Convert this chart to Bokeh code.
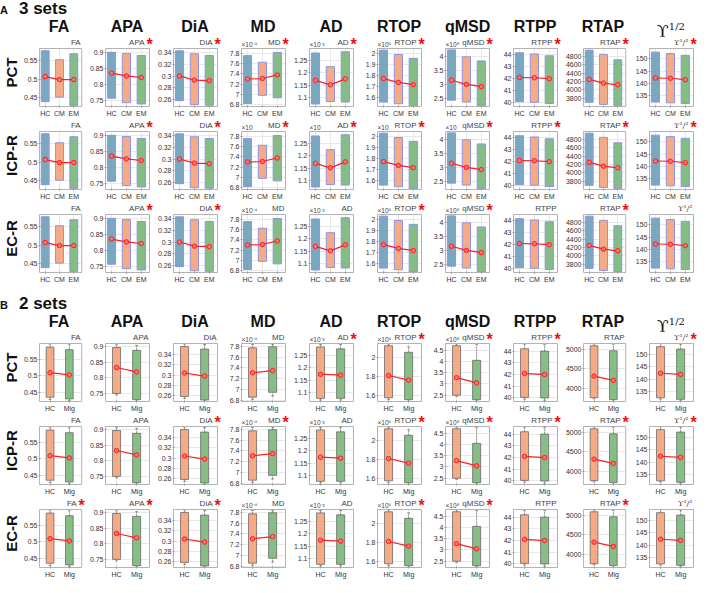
from bokeh.plotting import figure
from bokeh.models import (Range1d, FixedTicker, CustomJSTickFormatter, Title, Div, Spacer)
from bokeh.layouts import row, column
from bokeh.core.properties import value
from bokeh.embed import file_html
from bokeh.resources import INLINE

# ---------------------------------------------------------------- labels
HEADERS = ["FA", "APA", "DiA", "MD", "AD", "RTOP", "qMSD", "RTPP", "RTAP", "UPS"]
SMALL_TITLES = ["FA", "APA", "DiA", "MD", "AD", "RTOP", "qMSD", "RTPP", "RTAP", "ϒ¹/²"]
EXPONENTS = ["", "", "", "×10⁻⁴", "×10⁻³", "×10⁵", "×10⁸", "", "", ""]
ROW_NAMES = ["PCT", "ICP-R", "EC-R"]
GROUPS_A = ["HC", "CM", "EM"]
GROUPS_B = ["HC", "Mig"]

# significance stars (1 = red asterisk) per row, per metric
STARS_A = [[0, 1, 1, 1, 1, 1, 1, 1, 1, 1],
           [0, 1, 1, 1, 1, 1, 1, 1, 1, 1],
           [0, 1, 1, 0, 0, 1, 1, 0, 1, 0]]
STARS_B = [[0, 0, 0, 0, 1, 1, 1, 1, 0, 1],
           [0, 0, 1, 1, 0, 1, 1, 1, 1, 1],
           [1, 1, 1, 0, 0, 1, 1, 0, 1, 0]]

# ---------------------------------------------------------------- y axes
fa_ylim, fa_ticks = (0.427, 0.582), [0.45, 0.5, 0.55]
apa_ylim, apa_ticks = (0.730, 0.912), [0.75, 0.8, 0.85, 0.9]
dia_ylim, dia_ticks = (0.248, 0.347), [0.26, 0.28, 0.3, 0.32, 0.34]
md_ylim, md_ticks = (6.76, 7.90), [6.8, 7, 7.2, 7.4, 7.6, 7.8]
ad_ylim, ad_ticks = (1.065, 1.298), [1.1, 1.15, 1.2, 1.25]
rtop_ylim, rtop_ticks = (1.515, 2.045), [1.6, 1.7, 1.8, 1.9, 2]
qmsd_ylim, qmsd_ticks = (2.2, 4.3), [2.5, 3, 3.5, 4]
rtpp_ylim, rtpp_ticks = (39.7, 44.5), [40, 41, 42, 43, 44]
rtap_ylim, rtap_ticks = (3600, 4990), [3800, 4000, 4200, 4400, 4600, 4800]
ups_ylim, ups_ticks = (130.5, 154.3), [135, 140, 145, 150]

fa_ylim_b, fa_ticks_b = (0.422, 0.599), [0.45, 0.5, 0.55]
apa_ylim_b, apa_ticks_b = (0.724, 0.910), [0.75, 0.8, 0.85, 0.9]
dia_ylim_b, dia_ticks_b = (0.248, 0.362), [0.26, 0.28, 0.3, 0.32, 0.34]
md_ylim_b, md_ticks_b = (6.78, 7.85), [6.8, 7, 7.2, 7.4, 7.6, 7.8]
ad_ylim_b, ad_ticks_b = (1.062, 1.300), [1.1, 1.15, 1.2, 1.25]
rtop_ylim_b, rtop_ticks_b = (1.53, 2.155), [1.6, 1.8, 2]
qmsd_ylim_b, qmsd_ticks_b = (2.22, 4.80), [2.5, 3, 3.5, 4, 4.5]
rtpp_ylim_b, rtpp_ticks_b = (39.7, 44.65), [40, 41, 42, 43, 44]
rtap_ylim_b, rtap_ticks_b = (3650, 5160), [4000, 4500, 5000]
ups_ylim_b, ups_ticks_b = (130.8, 154.6), [135, 140, 145, 150]

# ---------------------------------------------------------------- data, section A (HC, CM, EM)
fa_low_a, fa_high_a, fa_mean_a = [0.440, 0.452, 0.430], [0.576, 0.552, 0.568], [0.507, 0.499, 0.499]
apa_low_a, apa_high_a, apa_mean_a = [0.756, 0.742, 0.738], [0.900, 0.896, 0.890], [0.835, 0.826, 0.821]
dia_low_a, dia_high_a, dia_mean_a = [0.258, 0.251, 0.250], [0.343, 0.338, 0.335], [0.300, 0.293, 0.292]
md_low_a, md_high_a, md_mean_a = [6.82, 6.98, 6.93], [7.76, 7.63, 7.82], [7.30, 7.31, 7.38]
ad_low_a, ad_high_a, ad_mean_a = [1.075, 1.085, 1.083], [1.280, 1.225, 1.285], [1.170, 1.152, 1.176]
rtop_low_a, rtop_high_a, rtop_mean_a = [1.555, 1.540, 1.520], [2.030, 1.990, 1.955], [1.770, 1.735, 1.715]
qmsd_low_a, qmsd_high_a, qmsd_mean_a = [2.43, 2.36, 2.22], [4.25, 4.00, 3.85], [3.15, 3.00, 2.92]
rtpp_low_a, rtpp_high_a, rtpp_mean_a = [40.10, 40.05, 39.95], [44.15, 44.05, 43.90], [42.10, 42.08, 42.00]
rtap_low_a, rtap_high_a, rtap_mean_a = [3700, 3650, 3620], [4950, 4850, 4720], [4250, 4160, 4120]
ups_low_a, ups_high_a, ups_mean_a = [132.3, 132.0, 131.7], [152.8, 152.2, 151.5], [142.2, 142.1, 141.5]

# ---------------------------------------------------------------- data, section B (HC, Mig)
fa_low_b, fa_high_b, fa_mean_b = [0.435, 0.430], [0.588, 0.580], [0.510, 0.503]
fa_wlo_b, fa_whi_b = [0.428, 0.425], [0.597, 0.597]
apa_low_b, apa_high_b, apa_mean_b = [0.750, 0.730], [0.897, 0.888], [0.833, 0.819]
apa_wlo_b, apa_whi_b = [0.745, 0.726], [0.906, 0.903]
dia_low_b, dia_high_b, dia_mean_b = [0.258, 0.251], [0.356, 0.351], [0.304, 0.298]
dia_wlo_b, dia_whi_b = [0.254, 0.249], [0.361, 0.360]
md_low_b, md_high_b, md_mean_b = [6.86, 6.95], [7.77, 7.79], [7.31, 7.35]
md_wlo_b, md_whi_b = [6.82, 6.88], [7.83, 7.83]
ad_low_b, ad_high_b, ad_mean_b = [1.075, 1.075], [1.286, 1.278], [1.174, 1.170]
ad_wlo_b, ad_whi_b = [1.068, 1.068], [1.296, 1.296]
rtop_low_b, rtop_high_b, rtop_mean_b = [1.57, 1.55], [2.13, 2.06], [1.81, 1.76]
rtop_wlo_b, rtop_whi_b = [1.55, 1.535], [2.15, 2.12]
qmsd_low_b, qmsd_high_b, qmsd_mean_b = [2.50, 2.30], [4.70, 4.05], [3.28, 3.05]
qmsd_wlo_b, qmsd_whi_b = [2.45, 2.25], [4.78, 4.75]
rtpp_low_b, rtpp_high_b, rtpp_mean_b = [40.05, 40.00], [44.20, 44.00], [42.10, 42.00]
rtpp_wlo_b, rtpp_whi_b = [39.90, 39.80], [44.60, 44.55]
rtap_low_b, rtap_high_b, rtap_mean_b = [3750, 3700], [5100, 4970], [4310, 4200]
rtap_wlo_b, rtap_whi_b = [3720, 3660], [5150, 5140]
ups_low_b, ups_high_b, ups_mean_b = [132.3, 131.7], [153.3, 152.3], [142.4, 141.9]
ups_wlo_b, ups_whi_b = [131.8, 131.3], [154.5, 154.3]

# tables built from the lists above
AXES_A = [(fa_ylim, fa_ticks), (apa_ylim, apa_ticks), (dia_ylim, dia_ticks), (md_ylim, md_ticks),
          (ad_ylim, ad_ticks), (rtop_ylim, rtop_ticks), (qmsd_ylim, qmsd_ticks),
          (rtpp_ylim, rtpp_ticks), (rtap_ylim, rtap_ticks), (ups_ylim, ups_ticks)]
AXES_B = [(fa_ylim_b, fa_ticks_b), (apa_ylim_b, apa_ticks_b), (dia_ylim_b, dia_ticks_b),
          (md_ylim_b, md_ticks_b), (ad_ylim_b, ad_ticks_b), (rtop_ylim_b, rtop_ticks_b),
          (qmsd_ylim_b, qmsd_ticks_b), (rtpp_ylim_b, rtpp_ticks_b), (rtap_ylim_b, rtap_ticks_b),
          (ups_ylim_b, ups_ticks_b)]
DATA_A = [(fa_low_a, fa_high_a, fa_mean_a), (apa_low_a, apa_high_a, apa_mean_a),
          (dia_low_a, dia_high_a, dia_mean_a), (md_low_a, md_high_a, md_mean_a),
          (ad_low_a, ad_high_a, ad_mean_a), (rtop_low_a, rtop_high_a, rtop_mean_a),
          (qmsd_low_a, qmsd_high_a, qmsd_mean_a), (rtpp_low_a, rtpp_high_a, rtpp_mean_a),
          (rtap_low_a, rtap_high_a, rtap_mean_a), (ups_low_a, ups_high_a, ups_mean_a)]
DATA_B = [(fa_low_b, fa_high_b, fa_mean_b, fa_wlo_b, fa_whi_b),
          (apa_low_b, apa_high_b, apa_mean_b, apa_wlo_b, apa_whi_b),
          (dia_low_b, dia_high_b, dia_mean_b, dia_wlo_b, dia_whi_b),
          (md_low_b, md_high_b, md_mean_b, md_wlo_b, md_whi_b),
          (ad_low_b, ad_high_b, ad_mean_b, ad_wlo_b, ad_whi_b),
          (rtop_low_b, rtop_high_b, rtop_mean_b, rtop_wlo_b, rtop_whi_b),
          (qmsd_low_b, qmsd_high_b, qmsd_mean_b, qmsd_wlo_b, qmsd_whi_b),
          (rtpp_low_b, rtpp_high_b, rtpp_mean_b, rtpp_wlo_b, rtpp_whi_b),
          (rtap_low_b, rtap_high_b, rtap_mean_b, rtap_wlo_b, rtap_whi_b),
          (ups_low_b, ups_high_b, ups_mean_b, ups_wlo_b, ups_whi_b)]

# ---------------------------------------------------------------- style
FONT = "Liberation Sans"
COLORS_A = ["#72a3bd", "#f5a67e", "#7dbb7e"]
EDGE_A = "#8c93e6"
COLORS_B = ["#f5a67e", "#80bb80"]
EDGE_B = "#6a6a6a"
RED = "#ff1f1f"

FW, FH = 44, 58          # axes box size (px)
EXT_R, TH, PAD = 5, 11, 1  # frame extension right (star), top (title zone), left/bottom pad
LB, RB = 18, 0           # left / right border
TB, BB = 1, 12           # top / bottom border
RL = 18                  # row label strip


def yfmt():
    return CustomJSTickFormatter(code="return String(+tick.toFixed(6));")


def xfmt(groups):
    return CustomJSTickFormatter(
        args=dict(labels=groups),
        code="const i = Math.round(tick) - 1; return (i >= 0 && i < labels.length) ? labels[i] : '';")


def panel(section, r, m, first):
    groups = GROUPS_A if section == "A" else GROUPS_B
    n = len(groups)
    xs = list(range(1, n + 1))
    (ylo, yhi), ticks = (AXES_A if section == "A" else AXES_B)[m]
    xr0, xr1 = (0.6, 3.55) if section == "A" else (0.45, 2.64)
    star = (STARS_A if section == "A" else STARS_B)[r][m]
    ux = (xr1 - xr0) / FW   # data units per pixel
    uy = (yhi - ylo) / FH

    left = LB + (RL if first else 0)
    p = figure(width=left + PAD + FW + EXT_R + RB, height=TB + TH + FH + PAD + BB,
               x_range=Range1d(xr0 - PAD * ux, xr1 + EXT_R * ux),
               y_range=Range1d(ylo - PAD * uy, yhi + TH * uy),
               output_backend="svg", toolbar_location=None,
               min_border_left=left, min_border_right=RB,
               min_border_top=TB, min_border_bottom=BB)
    p.outline_line_color = None
    p.grid.grid_line_color = "#e8e8e8"
    p.xgrid.cross_bounds = (ylo, yhi)
    p.ygrid.cross_bounds = (xr0, xr1)

    p.xaxis.ticker = FixedTicker(ticks=xs)
    p.xaxis.formatter = xfmt(groups)
    p.yaxis.ticker = FixedTicker(ticks=ticks)
    p.yaxis.formatter = yfmt()
    for ax in (p.xaxis[0], p.yaxis[0]):
        ax.axis_line_color = None
        ax.major_tick_in = 2
        ax.major_tick_out = 0
        ax.major_tick_line_color = "#9a9a9a"
        ax.minor_tick_line_color = None
        ax.major_label_text_font = FONT
        ax.major_label_text_font_size = "7px"
        ax.major_label_text_color = "#333333"
    p.yaxis.major_label_standoff = 1
    p.xaxis.major_label_standoff = 2

    if section == "A":
        low, high, mean = DATA_A[m]
        p.vbar(x=xs, bottom=low, top=high, width=0.55, fill_color=COLORS_A,
               fill_alpha=0.95, line_color=EDGE_A, line_width=1)
    else:
        low, high, mean, wlo, whi = DATA_B[m]
        p.segment(x0=xs, y0=high, x1=xs, y1=whi, line_color="#777777",
                  line_width=0.8, line_dash="2 1")
        p.segment(x0=xs, y0=wlo, x1=xs, y1=low, line_color="#777777",
                  line_width=0.8, line_dash="2 1")
        p.segment(x0=[x - 0.07 for x in xs], y0=whi, x1=[x + 0.07 for x in xs], y1=whi,
                  line_color="#777777", line_width=0.8)
        p.segment(x0=[x - 0.07 for x in xs], y0=wlo, x1=[x + 0.07 for x in xs], y1=wlo,
                  line_color="#777777", line_width=0.8)
        p.vbar(x=xs, bottom=low, top=high, width=0.4, fill_color=COLORS_B,
               fill_alpha=0.95, line_color=EDGE_B, line_width=0.8)

    p.line(xs, mean, line_color=RED, line_width=1.2)
    p.scatter(xs, mean, marker="circle", size=4.5, line_color=RED,
              fill_color="#ff7070", line_width=1)

    # axes box
    p.quad(left=[xr0], right=[xr1], bottom=[ylo], top=[yhi], fill_color=None,
           line_color="#b3b3b3", line_width=1)

    # small panel title, exponent and significance star
    p.text(x=[xr1], y=[yhi + 1.5 * uy], text=[SMALL_TITLES[m]], x_offset=-5 if star else -1,
           text_align="right", text_baseline="bottom",
           text_font=value("DejaVu Serif" if m == 9 else FONT), text_font_size="8px",
           text_color="#444444")
    expo = EXPONENTS[m]
    if section == "A" and r == 1 and expo:
        expo = "×10"
    if expo:
        p.text(x=[xr0], y=[yhi + 1 * uy], text=[expo], text_align="left",
               text_baseline="bottom", text_font=value(FONT), text_font_size="6.5px",
               text_color="#444444")
    if star:
        p.text(x=[xr1], y=[yhi + 4 * uy], text=["*"], text_align="center",
               text_baseline="middle", text_font=value(FONT), text_font_size="16px",
               text_font_style="bold", text_color="#ee1111")
    if first:
        p.add_layout(Title(text=ROW_NAMES[r], align="center", text_font=FONT,
                           text_font_size="15px", text_font_style="bold",
                           text_color="#111111", standoff=1), "left")
    return p


def section_header(letter, text):
    html = ('<div style="white-space:nowrap;font-family:\'Liberation Sans\',Arial,sans-serif;'
            'font-weight:bold;color:#111;line-height:18px">'
            f'<span style="font-size:11px">{letter}</span>'
            f'<span style="font-size:17px;margin-left:11px">{text}</span></div>')
    return Div(text=html, width=680, height=18, margin=0)


def col_headers():
    divs = []
    for i, name in enumerate(HEADERS):
        first = i == 0
        ml = LB + (RL if first else 0) + PAD
        w = ml + FW + EXT_R + RB
        if name == "UPS":
            inner = ('<span style="font-family:\'DejaVu Serif\',serif;font-weight:normal;'
                     'font-size:17px">ϒ<sup style="font-size:10px">1/2</sup></span>')
        else:
            inner = name
        html = (f'<div style="margin-left:{ml}px;width:{FW}px;text-align:center;white-space:nowrap;'
                'font-family:\'Liberation Sans\',Arial,sans-serif;font-weight:bold;'
                f'font-size:16px;line-height:18px;color:#111">{inner}</div>')
        divs.append(Div(text=html, width=w, height=18, margin=0))
    return row(*divs, spacing=0)


def section(sec):
    return [row(*[panel(sec, r, m, m == 0) for m in range(10)], spacing=0) for r in range(3)]


layout = column(
    section_header("A", "3 sets"),
    col_headers(),
    *section("A"),
    Spacer(width=10, height=10),
    section_header("B", "2 sets"),
    col_headers(),
    *section("B"),
    spacing=0,
)

open("out.html", "w").write(file_html(layout, INLINE, title="DTI metrics"))
